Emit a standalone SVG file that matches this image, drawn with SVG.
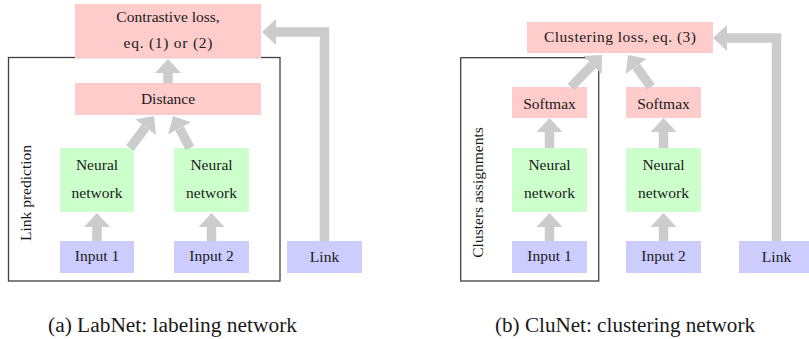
<svg xmlns="http://www.w3.org/2000/svg" width="809" height="339" viewBox="0 0 809 339">
<style>
  text { font-family: 'Liberation Serif', 'DejaVu Serif', serif; font-size: 15.5px; fill: #1a1a1a; text-anchor: middle; }
  .cap { font-size: 20px; }
  .pink { fill: #ffcccc; }
  .green { fill: #ccffcc; }
  .blue { fill: #ccccff; }
  .frame { fill: none; stroke: #404040; stroke-width: 1.3; }
  .arr { fill: none; stroke: #cccccc; stroke-width: 9.5; stroke-linecap: butt; stroke-linejoin: miter; marker-end: url(#head); }
</style>
<defs>
  <marker id="head" viewBox="0 0 14 26" markerWidth="14" markerHeight="26" refX="0" refY="13" orient="auto" markerUnits="userSpaceOnUse">
    <path d="M0,0 L14,13 L0,26 Z" fill="#cccccc"/>
  </marker>
</defs>

<!-- frames -->
<g id="frame-link-prediction">
  <rect class="frame" x="8.5" y="57.5" width="271.5" height="223.5"/>
  <text transform="translate(31,193) rotate(-90)">Link prediction</text>
</g>
<g id="frame-clusters">
  <rect class="frame" x="460.7" y="57.7" width="138" height="223.3"/>
  <text transform="translate(483,192.5) rotate(-90)">Clusters assignments</text>
</g>

<!-- Left: LabNet -->
<g id="contrastive-loss">
  <rect class="pink" x="75" y="4" width="186" height="54"/>
  <text x="168" y="21.5">Contrastive loss,</text>
  <text x="168" y="48" textLength="89" lengthAdjust="spacing">eq. (1) or (2)</text>
</g>
<g id="distance">
  <rect class="pink" x="75" y="83" width="186" height="32"/>
  <text x="168" y="104">Distance</text>
</g>
<g id="nn1-a">
  <rect class="green" x="60" y="148" width="74" height="64"/>
  <text x="97" y="170">Neural</text>
  <text x="97" y="198">network</text>
</g>
<g id="nn2-a">
  <rect class="green" x="174" y="148" width="75" height="64"/>
  <text x="211.5" y="170">Neural</text>
  <text x="211.5" y="198">network</text>
</g>
<g id="input1-a">
  <rect class="blue" x="60" y="241" width="74" height="32"/>
  <text x="97" y="261">Input 1</text>
</g>
<g id="input2-a">
  <rect class="blue" x="174" y="241" width="75" height="32"/>
  <text x="211.5" y="261">Input 2</text>
</g>
<g id="link-a">
  <rect class="blue" x="287" y="241" width="75" height="32"/>
  <text x="324.5" y="262">Link</text>
</g>

<!-- Right: CluNet -->
<g id="clustering-loss">
  <rect class="pink" x="527" y="22" width="186" height="31"/>
  <text x="620" y="42.3" textLength="152" lengthAdjust="spacing">Clustering loss, eq. (3)</text>
</g>
<g id="softmax1">
  <rect class="pink" x="512" y="87" width="75" height="31"/>
  <text x="549.5" y="109">Softmax</text>
</g>
<g id="softmax2">
  <rect class="pink" x="626" y="87" width="75" height="31"/>
  <text x="663.5" y="109">Softmax</text>
</g>
<g id="nn1-b">
  <rect class="green" x="512" y="148" width="75" height="64"/>
  <text x="549.5" y="170">Neural</text>
  <text x="549.5" y="198">network</text>
</g>
<g id="nn2-b">
  <rect class="green" x="626" y="148" width="75" height="64"/>
  <text x="663.5" y="170">Neural</text>
  <text x="663.5" y="198">network</text>
</g>
<g id="input1-b">
  <rect class="blue" x="512" y="241" width="75" height="32"/>
  <text x="549.5" y="261">Input 1</text>
</g>
<g id="input2-b">
  <rect class="blue" x="626" y="241" width="75" height="32"/>
  <text x="663.5" y="261">Input 2</text>
</g>
<g id="link-b">
  <rect class="blue" x="739" y="241" width="75" height="32"/>
  <text x="776.5" y="262">Link</text>
</g>

<!-- connectors -->
<g id="connectors">
  <path class="arr" d="M168,83 L168,73"/>
  <path class="arr" d="M130,148 L145.6,127.2"/>
  <path class="arr" d="M190,148 L179.6,128.4"/>
  <path class="arr" d="M97,241 L97,227"/>
  <path class="arr" d="M211.5,241 L211.5,227"/>
  <path class="arr" d="M324.5,241 L324.5,32 L276,32"/>

  <path class="arr" d="M571,87 L592.3,65"/>
  <path class="arr" d="M651,87 L636.2,66.4"/>
  <path class="arr" d="M549.5,148 L549.5,132"/>
  <path class="arr" d="M663.5,148 L663.5,132"/>
  <path class="arr" d="M549.5,241 L549.5,227"/>
  <path class="arr" d="M663.5,241 L663.5,227"/>
  <path class="arr" d="M776.5,241 L776.5,38 L727,38"/>
</g>

<!-- captions -->
<text class="cap" x="172.5" y="331.5" textLength="249" lengthAdjust="spacingAndGlyphs">(a) LabNet: labeling network</text>
<text class="cap" x="625" y="331.5" textLength="260" lengthAdjust="spacingAndGlyphs">(b) CluNet: clustering network</text>
</svg>
